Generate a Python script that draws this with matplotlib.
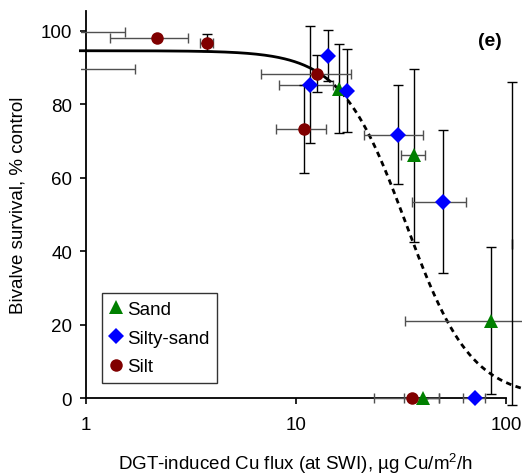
import numpy as np
import matplotlib
matplotlib.use("Agg")
import matplotlib.pyplot as plt
from matplotlib.patches import Rectangle

plt.rcParams["font.family"] = ["Liberation Sans", "DejaVu Sans"]
plt.rcParams["mathtext.fontset"] = "custom"
plt.rcParams["mathtext.rm"] = "Liberation Sans"

# Sand
sand_x = [16.0, 36.3, 84.9, 40.3, 0.8, 107.0]
sand_y = [84.2, 66.0, 21.0, 0.0, 99.7, 42.0]
sand_xerr = [0.0, 4.7, 52.0, 7.6, 0.73, 0.0]
sand_yerr = [12.0, 23.6, 20.0, 0.0, 0.0, 44.0]

# Silty-sand
silty_x = [14.2, 11.65, 17.5, 30.7, 50.1, 70.9, 0.8]
silty_y = [93.2, 85.3, 83.6, 71.7, 53.4, 0.0, 89.4]
silty_xerr = [0.0, 3.35, 0.0, 9.6, 14.4, 8.5, 0.91]
silty_yerr = [7.0, 16.0, 11.3, 13.5, 19.4, 0.0, 0.0]

# Silt
silt_x = [2.18, 3.75, 12.55, 10.97, 35.8]
silt_y = [98.0, 96.7, 88.3, 73.3, 0.0]
silt_xerr = [0.88, 0.27, 5.7, 2.95, 12.3]
silt_yerr = [0.0, 2.4, 5.0, 12.0, 0.0]

# fitted dose-response curve
top = 94.5
ec50 = 33.5
slope = 2.8
x_solid = np.logspace(np.log10(0.94), np.log10(14.0), 200)
x_dash = np.logspace(np.log10(14.0), np.log10(118.0), 300)

fig = plt.figure(figsize=(5.29, 4.77), dpi=100)
ax = fig.add_axes([0.1626, 0.1635, 0.7939, 0.8105])
ax.set_xscale("log")
ax.set_xlim(1, 100)
ax.set_ylim(0, 105.2)

# error bars may run a little past the plot area, markers only vertically
bar_clip = Rectangle((-0.013, -0.05), 1.05, 1.1, transform=ax.transAxes)
mark_clip = Rectangle((0.0, -0.05), 0.99, 1.1, transform=ax.transAxes)

ax.plot(x_solid, top / (1 + (x_solid / ec50) ** slope), color="black", lw=2.0, clip_on=False, zorder=2)
ax.plot(x_dash, top / (1 + (x_dash / ec50) ** slope), color="black", lw=2.0,
        dashes=(2.0, 1.6), clip_on=False, zorder=2)

groups = [
    (sand_x, sand_y, sand_xerr, sand_yerr, "^", "#008000", 9.5, "Sand"),
    (silty_x, silty_y, silty_xerr, silty_yerr, "D", "#0000ff", 8.5, "Silty-sand"),
    (silt_x, silt_y, silt_xerr, silt_yerr, "o", "#800000", 9, "Silt"),
]

for gx, gy, gxe, gye, mk, col, ms, lab in groups:
    ex = ax.errorbar(gx, gy, xerr=gxe, fmt="none", ecolor="#505050", elinewidth=1.0,
                     capsize=3.5, capthick=1.0, zorder=3)
    ey = ax.errorbar(gx, gy, yerr=gye, fmt="none", ecolor="black", elinewidth=1.0,
                     capsize=3.5, capthick=1.0, zorder=3)
    for cont in (ex, ey):
        for art in cont.lines[1] + cont.lines[2]:
            art.set_clip_path(bar_clip)
    pts, = ax.plot(gx, gy, linestyle="none", marker=mk, color=col, markersize=ms,
                   markeredgewidth=0, label=lab, zorder=4)
    pts.set_clip_path(mark_clip)

ax.text(0.99, 0.925, "(e)", transform=ax.transAxes, ha="right", va="center",
        fontsize=14, fontweight="bold")

ax.spines["top"].set_visible(False)
ax.spines["right"].set_visible(False)
ax.spines["left"].set_linewidth(1.3)
ax.spines["bottom"].set_linewidth(1.3)

ax.set_xticks([1, 10, 100])
ax.set_xticklabels(["1", "10", "100"])
ax.xaxis.set_minor_locator(matplotlib.ticker.NullLocator())
ax.set_yticks([0, 20, 40, 60, 80, 100])
ax.tick_params(axis="both", direction="out", length=4, width=1.2, labelsize=13.5)
ax.tick_params(axis="x", pad=9)
ax.tick_params(axis="y", pad=6)

ax.set_xlabel("DGT-induced Cu flux (at SWI), µg Cu/m$^2$/h", fontsize=13.5, labelpad=12)
ax.set_ylabel("Bivalve survival, % control", fontsize=13.5, labelpad=10)

leg = ax.legend(loc="lower left", bbox_to_anchor=(0.038, 0.039), borderaxespad=0,
                fontsize=13.5, frameon=True, fancybox=False, edgecolor="black",
                handlelength=0.7, handletextpad=0.25, labelspacing=0.62,
                borderpad=0.4, markerscale=1.0)
leg.get_frame().set_linewidth(1.0)

fig.savefig("out.png", dpi=100)
